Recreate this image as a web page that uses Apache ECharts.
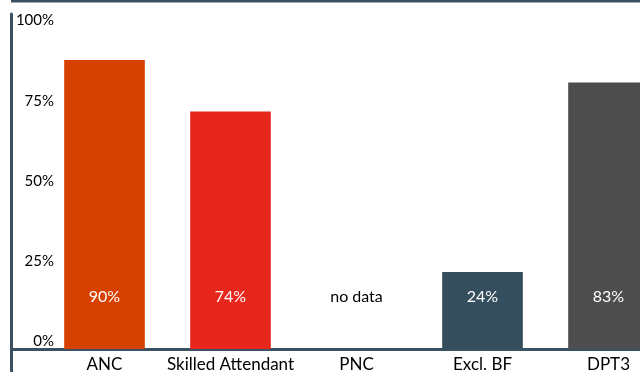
<!DOCTYPE html>
<html>
<head>
<meta charset="utf-8">
<script src="https://cdn.jsdelivr.net/npm/echarts@6/dist/echarts.min.js"></script>
<style>
html,body{margin:0;padding:0;background:#fff;}
#chart{width:640px;height:372px;}
</style>
</head>
<body>
<div id="chart"></div>
<script>
const categories = ['ANC', 'Skilled Attendant', 'PNC', 'Excl. BF', 'DPT3'];
const values = [90, 74, 0, 24, 83];
const valueLabels = ['90%', '74%', 'no data', '24%', '83%'];
const barColors = ['#d64000', '#e8271c', '#ffffff', '#344e5d', '#4d4d4d'];
const labelColors = ['#ffffff', '#ffffff', '#000000', '#ffffff', '#ffffff'];
const yTicks = [0, 25, 50, 75, 100];

const FONT = 'Lato';
const AXIS = '#3a5161';

const chart = echarts.init(document.getElementById('chart'));
chart.setOption({
  animation: false,
  backgroundColor: '#ffffff',
  grid: [
    {left: 41.5, width: 630, top: 28, bottom: 23, outerBoundsMode: 'none', containLabel: false},
    {left: 11.5, right: 0, top: 14, bottom: 0, outerBoundsMode: 'none', containLabel: false},
    {left: 11.5, right: 0, top: 0, bottom: 23, outerBoundsMode: 'none', containLabel: false}
  ],
  xAxis: [
    {
      type: 'category', gridIndex: 0, data: categories,
      axisLine: {show: false}, axisTick: {show: false},
      axisLabel: {fontFamily: FONT, fontSize: 17, color: '#000', margin: 7, interval: 0}
    },
    {type: 'category', gridIndex: 1, data: [''], show: false},
    {
      type: 'category', gridIndex: 2, data: [''],
      axisLine: {show: true, lineStyle: {color: AXIS, width: 3}},
      axisTick: {show: false}, axisLabel: {show: false}
    }
  ],
  yAxis: [
    {
      type: 'value', gridIndex: 0, min: 0, max: 100, interval: 25,
      splitLine: {show: false}, axisLine: {show: false}, axisTick: {show: false},
      axisLabel: {
        inside: true, margin: 12.5, align: 'right', verticalAlign: 'bottom',
        fontFamily: FONT, fontSize: 15, color: '#000', lineHeight: 15,
        formatter: function (v) { return yTicks.indexOf(v) >= 0 ? v + '%' : ''; }
      }
    },
    {
      type: 'value', gridIndex: 1, min: 0, max: 1,
      axisLine: {show: true, lineStyle: {color: AXIS, width: 3}},
      axisTick: {show: false}, axisLabel: {show: false}, splitLine: {show: false}
    },
    {type: 'value', gridIndex: 2, show: false, min: 0, max: 1}
  ],
  graphic: [
    {type: 'rect', shape: {x: 11, y: 0, width: 629, height: 2.5}, style: {fill: AXIS}, silent: true}
  ],
  series: [{
    type: 'bar', xAxisIndex: 0, yAxisIndex: 0,
    barWidth: '64%',
    data: values.map(function (v, i) {
      return {
        value: v,
        itemStyle: {color: barColors[i]},
        label: {color: labelColors[i]}
      };
    }),
    label: {
      show: true, position: 'insideBottom', distance: 44,
      fontFamily: FONT, fontSize: 16,
      formatter: function (p) { return valueLabels[p.dataIndex]; }
    }
  }]
});
</script>
</body>
</html>
